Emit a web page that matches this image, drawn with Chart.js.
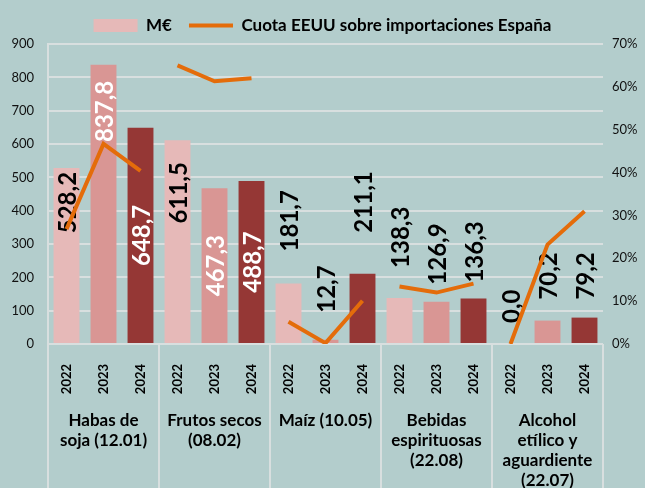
<!DOCTYPE html>
<html>
<head>
<meta charset="utf-8">
<script src="https://cdn.jsdelivr.net/npm/chart.js@4"></script>
<style>
  html, body { margin: 0; padding: 0; background: #b3cdcc; }
  #wrap { width: 645px; height: 488px; position: relative; }
</style>
</head>
<body>
<div id="wrap"><canvas id="chart"></canvas></div>
<script>
// Data
const groups = [
    ['Habas de', 'soja (12.01)'],
    ['Frutos secos', '(08.02)'],
    ['Maíz (10.05)'],
    ['Bebidas', 'espirituosas', '(22.08)'],
    ['Alcohol', 'etílico y', 'aguardiente', '(22.07)']
];
const years = ['2022', '2023', '2024'];
const valuesMEUR = [
    528.2, 837.8, 648.7,
    611.5, 467.3, 488.7,
    181.7, 12.7, 211.1,
    138.3, 126.9, 136.3,
    0.0, 70.2, 79.2
];
const shareUS = [
    26.8, 46.7, 40.4,
    65.0, 61.3, 62.0,
    5.2, 0.2, 10.1,
    13.4, 12.0, 14.1,
    0.0, 23.2, 31.0
];
const leftTicks = [0, 100, 200, 300, 400, 500, 600, 700, 800, 900];
const rightTicks = ['0%', '10%', '20%', '30%', '40%', '50%', '60%', '70%'];

// label placement (mode, text colour, gap in px)
const labelStyle = [
    ['in', '#000', 4], ['in', '#fff', 16], ['mid', '#fff', 0],
    ['in', '#000', 22], ['mid', '#fff', 0], ['mid', '#fff', 0],
    ['out', '#000', 32], ['out', '#000', 27], ['out', '#000', 41],
    ['out', '#000', 30], ['out', '#000', 17], ['out', '#000', 16],
    ['out', '#000', 21], ['out', '#000', 21], ['out', '#000', 18]
];

const yearColors = ['#e6b9b8', '#d99694', '#953735'];
const orange = '#e46c0a';
const gridColor = '#d8dfdf';
const FONT = "Lato, 'DejaVu Sans', sans-serif";

const categories = [];
groups.forEach(() => years.forEach(y => categories.push(y)));
const barColors = categories.map((c, i) => yearColors[i % 3]);

// bar value labels, drawn right after the bars (so the line passes over them)
const barLabels = {
    id: 'barLabels',
    afterDatasetDraw(chart, args) {
        if (args.meta.type !== 'bar') return;
        const ctx = chart.ctx;
        ctx.save();
        ctx.font = 'bold 24px ' + FONT;
        ctx.textBaseline = 'middle';
        args.meta.data.forEach((bar, i) => {
            const [mode, color, gap] = labelStyle[i];
            const txt = valuesMEUR[i].toFixed(1).replace('.', ',');
            let y, align;
            if (mode === 'in') { y = bar.y + gap; align = 'right'; }
            else if (mode === 'out') { y = bar.y - gap; align = 'left'; }
            else { y = (bar.y + bar.base) / 2; align = 'center'; }
            ctx.save();
            ctx.translate(bar.x + 2, y);
            ctx.rotate(-Math.PI / 2);
            ctx.textAlign = align;
            ctx.fillStyle = color;
            ctx.fillText(txt, 0, 0);
            ctx.restore();
        });
        ctx.restore();
    }
};

// vertical separators between groups under the plot
const groupLines = {
    id: 'groupLines',
    afterDraw(chart) {
        const ctx = chart.ctx;
        const area = chart.chartArea;
        const x = chart.scales.x;
        ctx.save();
        ctx.strokeStyle = gridColor;
        ctx.lineWidth = 2;
        for (let g = 0; g <= groups.length; g++) {
            let px;
            if (g === 0) px = area.left;
            else if (g === groups.length) px = area.right;
            else px = (x.getPixelForValue(g * 3 - 1) + x.getPixelForValue(g * 3)) / 2;
            ctx.beginPath();
            ctx.moveTo(px, g === 0 ? area.top : area.bottom);
            ctx.lineTo(px, chart.height);
            ctx.stroke();
        }
        ctx.restore();
    }
};

new Chart(document.getElementById('chart'), {
    data: {
        labels: categories,
        datasets: [
            {
                type: 'line',
                label: 'Cuota EEUU sobre importaciones España',
                data: shareUS,
                yAxisID: 'y1',
                borderColor: orange,
                backgroundColor: orange,
                borderWidth: 4,
                pointRadius: 0,
                order: 0,
                segment: {
                    borderColor: c => (c.p0DataIndex % 3 === 2) ? 'transparent' : orange
                }
            },
            {
                type: 'bar',
                label: 'M€',
                data: valuesMEUR,
                yAxisID: 'y',
                backgroundColor: barColors,
                categoryPercentage: 1,
                barPercentage: 0.7,
                order: 1
            }
        ]
    },
    options: {
        responsive: true,
        maintainAspectRatio: false,
        animation: false,
        layout: { padding: { top: 0, right: 0, left: 0, bottom: 0 } },
        plugins: {
            tooltip: { enabled: false },
            legend: {
                position: 'top',
                labels: {
                    usePointStyle: true,
                    pointStyleWidth: 44,
                    boxHeight: 13,
                    padding: 17,
                    color: '#000',
                    font: { family: FONT, size: 17, weight: 'bold' },
                    generateLabels(chart) {
                        return [
                            { text: 'M€', fillStyle: yearColors[0], strokeStyle: yearColors[0], lineWidth: 0, pointStyle: 'rect', datasetIndex: 1 },
                            { text: 'Cuota EEUU sobre importaciones España', fillStyle: orange, strokeStyle: orange, lineWidth: 4, pointStyle: 'line', datasetIndex: 0 }
                        ];
                    }
                }
            }
        },
        scales: {
            x: {
                position: 'bottom',
                grid: { display: false },
                border: { display: false },
                ticks: {
                    minRotation: 90, maxRotation: 90, autoSkip: false,
                    padding: 12,
                    color: '#000',
                    font: { family: FONT, size: 13, weight: 'bold' }
                },
                afterFit(s) { s.height = 56; }
            },
            x2: {
                type: 'category',
                position: 'bottom',
                labels: groups,
                offset: true,
                grid: { display: false },
                border: { display: false },
                ticks: {
                    minRotation: 0, maxRotation: 0, autoSkip: false,
                    padding: 2,
                    color: '#000',
                    font: { family: FONT, size: 17, weight: 'bold', lineHeight: 1.18 }
                },
                afterFit(s) { s.height = 88; }
            },
            y: {
                position: 'left',
                min: 0, max: 900,
                afterBuildTicks(s) { s.ticks = leftTicks.map(v => ({ value: v })); },
                grid: { color: gridColor, lineWidth: 2, drawTicks: false },
                border: { color: gridColor, width: 2 },
                ticks: {
                    padding: 14,
                    color: '#111',
                    font: { family: FONT, size: 13 }
                },
                afterFit(s) { s.width = 48; }
            },
            y1: {
                position: 'right',
                min: 0, max: 70,
                afterBuildTicks(s) { s.ticks = rightTicks.map(t => ({ value: parseFloat(t) })); },
                grid: { drawOnChartArea: false, drawTicks: false },
                border: { display: false },
                ticks: {
                    padding: 9,
                    color: '#111',
                    font: { family: FONT, size: 13 },
                    callback: (v, i) => rightTicks[i]
                },
                afterFit(s) { s.width = 42; }
            }
        }
    },
    plugins: [barLabels, groupLines]
});
</script>
</body>
</html>
